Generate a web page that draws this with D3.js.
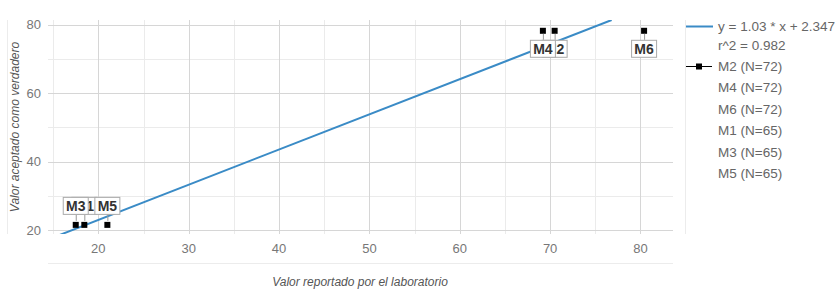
<!DOCTYPE html>
<html>
<head>
<meta charset="utf-8">
<script src="https://cdn.jsdelivr.net/npm/d3@7"></script>
<style>
	body { margin: 0; background: #fff; }
	svg { font-family: "Liberation Sans", Arial, sans-serif; }
</style>
</head>
<body>
<div id="figure"></div>
<script>
var w = 837;
var h = 289;

// data
var names = ["M2", "M4", "M6", "M1", "M3", "M5"];
var counts = [72, 72, 72, 65, 65, 65];
var reported = [70.5, 69.2, 80.4, 18.45, 17.5, 21.0];
var accepted = [78.3, 78.3, 78.3, 21.5, 21.5, 21.5];
var fitSlope = 1.03;
var fitIntercept = 2.347;
var fitR2 = 0.982;
var fitStartX = 15.5;
var xTicks = [20, 30, 40, 50, 60, 70, 80];
var yTicks = [20, 40, 60, 80];

var plot = { left: 48, right: 673, top: 20, bottom: 234 };

var svg = d3.select('#figure')
	.append('svg')
	.attr('width', w)
	.attr('height', h);

var xScale = d3.scaleLinear()
	.domain([14.43, 83.6])
	.range([plot.left, plot.right]);

var yScale = d3.scaleLinear()
	.domain([18.83, 81.46])
	.range([plot.bottom, plot.top]);

//Frame lines
var frame = svg.append('g').attr('stroke', '#ececec').attr('stroke-width', 1);
frame.append('line').attr('x1', 7.5).attr('x2', 7.5).attr('y1', plot.top).attr('y2', plot.bottom);
frame.append('line').attr('x1', 685.5).attr('x2', 685.5).attr('y1', plot.top).attr('y2', plot.bottom);
frame.append('line').attr('x1', plot.left).attr('x2', plot.right).attr('y1', 263.5).attr('y2', 263.5);

//Gridlines
var minorX = d3.range(15, 84, 5).filter(function(d){ return d % 10 !== 0; });
var minorY = [30, 50, 70];

var grid = svg.append('g').classed('gridlines', true);
grid.selectAll('line.minx')
	.data(minorX)
	.enter()
	.append('line')
	.attr('x1', function(d){ return Math.round(xScale(d)) + 0.5; })
	.attr('x2', function(d){ return Math.round(xScale(d)) + 0.5; })
	.attr('y1', plot.top)
	.attr('y2', plot.bottom)
	.attr('stroke', '#ebebeb');
grid.selectAll('line.miny')
	.data(minorY)
	.enter()
	.append('line')
	.attr('x1', plot.left)
	.attr('x2', plot.right)
	.attr('y1', function(d){ return Math.round(yScale(d)) + 0.5; })
	.attr('y2', function(d){ return Math.round(yScale(d)) + 0.5; })
	.attr('stroke', '#ebebeb');
grid.selectAll('line.majx')
	.data(xTicks)
	.enter()
	.append('line')
	.attr('x1', function(d){ return Math.round(xScale(d)) + 0.5; })
	.attr('x2', function(d){ return Math.round(xScale(d)) + 0.5; })
	.attr('y1', plot.top)
	.attr('y2', plot.bottom)
	.attr('stroke', '#d6d6d6');
grid.selectAll('line.majy')
	.data(yTicks)
	.enter()
	.append('line')
	.attr('x1', plot.left)
	.attr('x2', plot.right)
	.attr('y1', function(d){ return Math.round(yScale(d)) + 0.5; })
	.attr('y2', function(d){ return Math.round(yScale(d)) + 0.5; })
	.attr('stroke', '#d6d6d6');

//Tick labels
svg.append('g')
	.selectAll('text')
	.data(xTicks)
	.enter()
	.append('text')
	.attr('x', function(d){ return xScale(d); })
	.attr('y', 253)
	.attr('text-anchor', 'middle')
	.attr('font-size', 13)
	.attr('fill', '#777')
	.text(function(d){ return d; });

svg.append('g')
	.selectAll('text')
	.data(yTicks)
	.enter()
	.append('text')
	.attr('x', 41)
	.attr('y', function(d){ return yScale(d) + 4.5; })
	.attr('text-anchor', 'end')
	.attr('font-size', 13)
	.attr('fill', '#777')
	.text(function(d){ return d; });

//Axis titles
svg.append('text')
	.attr('x', 360)
	.attr('y', 286)
	.attr('text-anchor', 'middle')
	.attr('font-size', 12)
	.attr('font-style', 'italic')
	.attr('fill', '#555')
	.text('Valor reportado por el laboratorio');

svg.append('text')
	.attr('transform', 'translate(19,127) rotate(-90)')
	.attr('text-anchor', 'middle')
	.attr('font-size', 12)
	.attr('font-style', 'italic')
	.attr('fill', '#555')
	.text('Valor aceptado como verdadero');

//Regression line
svg.append('clipPath')
	.attr('id', 'plotclip')
	.append('rect')
	.attr('x', plot.left)
	.attr('y', plot.top)
	.attr('width', plot.right - plot.left)
	.attr('height', plot.bottom - plot.top);

var fitEndX = (yScale.domain()[1] - fitIntercept) / fitSlope;
svg.append('line')
	.attr('clip-path', 'url(#plotclip)')
	.attr('x1', xScale(fitStartX))
	.attr('y1', yScale(fitSlope * fitStartX + fitIntercept))
	.attr('x2', xScale(fitEndX))
	.attr('y2', yScale(fitSlope * fitEndX + fitIntercept))
	.attr('stroke', '#3a8bc6')
	.attr('stroke-width', 2);

//Points and labels
var points = names.map(function(n, i){
	return { name: n, x: reported[i], y: accepted[i] };
});

svg.append('g')
	.selectAll('rect')
	.data(points)
	.enter()
	.append('rect')
	.attr('x', function(d){ return xScale(d.x) - 3; })
	.attr('y', function(d){ return yScale(d.y) - 3; })
	.attr('width', 6)
	.attr('height', 6)
	.attr('fill', '#000');

var labels = svg.append('g')
	.selectAll('g')
	.data(points)
	.enter()
	.append('g')
	.attr('transform', function(d){
		var px = xScale(d.x), py = yScale(d.y);
		// high points get label below, low points above
		var by = d.y > 50 ? py + 9 : py - 28;
		return 'translate(' + px + ',' + by + ')';
	});

labels.append('line')
	.attr('x1', 0.5)
	.attr('x2', 0.5)
	.attr('y1', function(d){ return d.y > 50 ? -6 : 17; })
	.attr('y2', function(d){ return d.y > 50 ? 0 : 24; })
	.attr('stroke', '#999');

labels.append('rect')
	.attr('x', -12.5)
	.attr('y', 0.5)
	.attr('width', 25)
	.attr('height', 17)
	.attr('fill', '#fff')
	.attr('stroke', '#aaa');

labels.append('text')
	.attr('x', 0)
	.attr('y', 14)
	.attr('text-anchor', 'middle')
	.attr('font-size', 14)
	.attr('font-weight', 'bold')
	.attr('fill', '#333')
	.text(function(d){ return d.name; });

//Legend
var legend = svg.append('g').attr('font-size', 13.5).attr('fill', '#666');
legend.append('line')
	.attr('x1', 686).attr('x2', 713)
	.attr('y1', 26.5).attr('y2', 26.5)
	.attr('stroke', '#3a8bc6').attr('stroke-width', 2);
legend.append('text').attr('x', 718).attr('y', 31)
	.text('y = ' + fitSlope + ' * x + ' + fitIntercept);
legend.append('text').attr('x', 718).attr('y', 50)
	.text('r^2 = ' + fitR2);

var rows = legend.selectAll('g.row')
	.data(names)
	.enter()
	.append('g')
	.attr('transform', function(d, i){ return 'translate(0,' + (66.5 + i * 21.4) + ')'; });

rows.filter(function(d, i){ return i === 0; })
	.append('line')
	.attr('x1', 686).attr('x2', 712)
	.attr('y1', 0).attr('y2', 0)
	.attr('stroke', '#000').attr('stroke-width', 1);
rows.filter(function(d, i){ return i === 0; })
	.append('rect')
	.attr('x', 696).attr('y', -3)
	.attr('width', 6).attr('height', 6)
	.attr('fill', '#000');

rows.append('text')
	.attr('x', 718)
	.attr('y', 4.5)
	.text(function(d, i){ return d + ' (N=' + counts[i] + ')'; });
</script>
</body>
</html>
